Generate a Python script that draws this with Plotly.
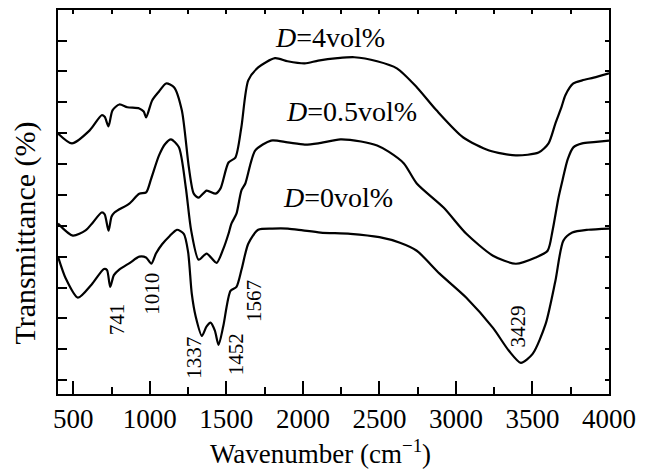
import plotly.graph_objects as go

# Wavenumber (cm^-1) and transmittance (arbitrary offset units)
wn_0 = [400, 450, 530, 620, 700, 720, 741, 765, 800, 870, 931, 975, 1010, 1040, 1080, 1130, 1177, 1222, 1250,
        1274, 1300, 1340, 1370, 1397, 1425, 1449, 1480, 1527, 1566, 1600, 1643, 1708, 1800, 1902, 2000, 2116,
        2310, 2500, 2634, 2744, 2893, 3068, 3242, 3346, 3424, 3501, 3586, 3650, 3702, 3760, 3864, 4000]
t_0 = [4.45, 3.75, 3.12, 3.55, 4.05, 4.02, 3.47, 3.85, 4.03, 4.25, 4.45, 4.42, 4.22, 4.55, 4.85, 5.12, 5.32, 5.19, 4.6,
       3.25, 2.5, 1.88, 2.18, 2.31, 2.05, 1.59, 2.2, 3.34, 3.47, 4.05, 4.87, 5.32, 5.36, 5.36, 5.3, 5.23,
       5.19, 5.08, 4.9, 4.64, 3.9, 3.12, 2.14, 1.4, 1.01, 1.3, 2.27, 3.67, 4.97, 5.23, 5.32, 5.36]

wn_05 = [400, 497, 580, 627, 685, 705, 730, 750, 769, 866, 931, 976, 1009, 1060, 1100, 1138, 1190, 1235, 1270,
         1319, 1371, 1436, 1480, 1514, 1533, 1566, 1598, 1624, 1689, 1792, 1900, 2012, 2100, 2245, 2380, 2485,
         2560, 2660, 2744, 2919, 3068, 3242, 3391, 3521, 3599, 3631, 3670, 3696, 3730, 3767, 3825, 3900, 4000]
t_05 = [5.52, 5.13, 5.3, 5.55, 5.88, 5.82, 5.29, 5.75, 5.88, 6.17, 6.49, 6.53, 6.98, 7.73, 8.1, 8.25, 7.99, 6.69, 5.3,
        4.35, 4.55, 4.25, 4.7, 5.19, 5.52, 5.84, 6.59, 6.82, 7.89, 8.21, 8.15, 8.08, 8.12, 8.25, 8.18, 8.05,
        7.85, 7.47, 6.82, 6.04, 5.19, 4.48, 4.22, 4.42, 4.64, 5.29, 6.36, 6.92, 7.6, 7.99, 8.12, 8.16, 8.21]

wn_4 = [400, 491, 607, 685, 705, 730, 756, 801, 853, 931, 960, 976, 1015, 1060, 1106, 1158, 1209, 1255, 1287,
        1319, 1371, 1430, 1462, 1514, 1559, 1598, 1643, 1708, 1818, 1900, 2012, 2100, 2226, 2336, 2485, 2614,
        2744, 2873, 3048, 3217, 3391, 3540, 3605, 3650, 3690, 3715, 3767, 3825, 3900, 4000]
t_4 = [8.44, 8.12, 8.54, 9.03, 8.98, 8.67, 9.19, 9.38, 9.29, 9.25, 9.15, 8.96, 9.51, 9.8, 10.06, 9.94, 9.19, 7.34, 6.49,
       6.36, 6.59, 6.49, 6.66, 7.5, 7.66, 8.64, 10.16, 10.58, 10.88, 10.78, 10.71, 10.8, 10.88, 10.91, 10.78, 10.55,
       9.94, 9.19, 8.31, 7.89, 7.73, 7.82, 8.12, 8.77, 9.3, 9.68, 10.06, 10.16, 10.25, 10.39]

series_names = ["D=0vol%", "D=0.5vol%", "D=4vol%"]

curve_labels = ["<i>D</i>=4vol%", "<i>D</i>=0.5vol%", "<i>D</i>=0vol%"]
curve_label_x = [2180, 2320, 2232]
curve_label_y = [11.55, 9.16, 6.36]

peak_labels = ["741", "1010", "1337", "1452", "1567", "3429"]
peak_label_x = [782, 1015, 1287, 1559, 1682, 3404]
peak_label_y = [2.44, 3.25, 1.17, 1.30, 3.02, 2.18]

x_title = "Wavenumber (cm<sup>−1</sup>)"
y_title = "Transmittance (%)"

x_range = [400, 4000]
y_range = [0, 12.44]
y_ticks = [0.45 + k for k in range(12)]

FONT = "Liberation Serif"

fig = go.Figure()
for wn, t, name in [(wn_0, t_0, series_names[0]), (wn_05, t_05, series_names[1]), (wn_4, t_4, series_names[2])]:
    fig.add_trace(go.Scatter(x=wn, y=t, mode="lines", name=name,
                             line=dict(color="black", width=2.2, shape="spline", smoothing=0.7)))
# empty trace to bring up the top/right frame axes
fig.add_trace(go.Scatter(x=[None], y=[None], xaxis="x2", yaxis="y2", showlegend=False, hoverinfo="skip"))

for txt, x, y in zip(curve_labels, curve_label_x, curve_label_y):
    fig.add_annotation(x=x, y=y, text=txt, showarrow=False, xanchor="center", yanchor="middle",
                       font=dict(family=FONT, size=28, color="black"))

for txt, x, y in zip(peak_labels, peak_label_x, peak_label_y):
    fig.add_annotation(x=x, y=y, text=txt, showarrow=False, textangle=-90, xanchor="center", yanchor="middle",
                       font=dict(family=FONT, size=21, color="black"))

# axis titles
fig.add_annotation(xref="paper", yref="paper", x=0.477, y=0, yshift=-58, text=x_title, showarrow=False,
                   xanchor="center", yanchor="middle", font=dict(family=FONT, size=27, color="black"))
fig.add_annotation(xref="paper", yref="paper", x=0, xshift=-33, y=0.418, text=y_title, showarrow=False,
                   textangle=-90, xanchor="center", yanchor="middle", font=dict(family=FONT, size=30, color="black"))

fig.update_layout(
    width=646, height=472,
    margin=dict(l=57.5, r=31, t=10, b=78),
    plot_bgcolor="white", paper_bgcolor="white",
    showlegend=False,
    font=dict(family=FONT, color="black"),
    xaxis=dict(range=x_range, tick0=500, dtick=500, ticks="inside", ticklen=13, tickwidth=1.8, tickcolor="black",
               minor=dict(dtick=250, tick0=500, ticks="inside", ticklen=7, tickwidth=1.8, tickcolor="black"),
               showline=True, linewidth=2, linecolor="black", mirror=False, showgrid=False, zeroline=False,
               tickfont=dict(family=FONT, size=27, color="black")),
    yaxis=dict(range=y_range, tickvals=y_ticks, showticklabels=False, ticks="inside", ticklen=9,
               tickwidth=1.8, tickcolor="black",
               showline=True, linewidth=2, linecolor="black", mirror=False, showgrid=False, zeroline=False),
    xaxis2=dict(range=x_range, overlaying="x", side="top", tick0=500, dtick=250, ticks="inside", ticklen=4,
                tickwidth=1.5, tickcolor="black", showticklabels=False,
                showline=True, linewidth=2, linecolor="black", showgrid=False, zeroline=False),
    yaxis2=dict(range=y_range, overlaying="y", side="right", tickvals=y_ticks, ticks="inside", ticklen=4,
                tickwidth=1.5, tickcolor="black", showticklabels=False,
                showline=True, linewidth=2, linecolor="black", showgrid=False, zeroline=False),
)

fig.write_html("out.html")
